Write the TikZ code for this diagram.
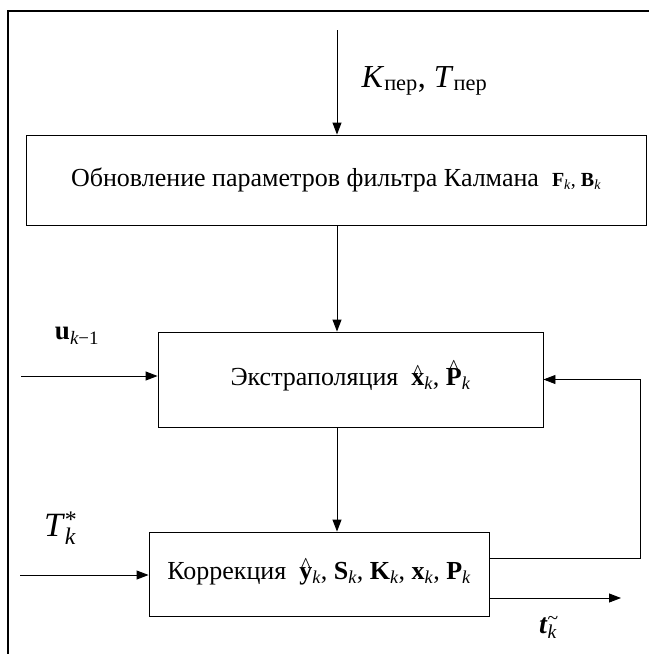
\documentclass[tikz,border=0pt]{standalone}
\usepackage{fontspec}
\setmainfont{Liberation Serif}
\usetikzlibrary{arrows.meta}

\newcommand{\vb}[1]{\textbf{#1}}
\newcommand{\ix}[1]{\textsubscript{\itshape #1}}
\newcommand{\hatv}[2]{\ooalign{#2\cr\hidewidth\raisebox{#1}{\fontsize{20}{20}\selectfont\textasciicircum}\hidewidth\cr}}
\newcommand{\boxfont}{\fontsize{26}{30}\selectfont}

\begin{document}
\begin{tikzpicture}[x=1pt, y=-1pt, >={Triangle[length=12pt,width=9pt]},
    box/.style={draw, line width=0.9pt, inner sep=0pt, font=\boxfont},
    link/.style={line width=0.9pt}]
	\useasboundingbox (0,0) rectangle (649,654);

	% Frame
	\draw[line width=2.6pt] (8,654) -- (8,11) -- (649,11);

	% Blocks
	\node[box, minimum width=620pt, minimum height=90pt] (update) at (336,180)
		{Обновление параметров фильтра Калмана \ {\fontsize{20}{20}\selectfont\vb{F}\ix{k}, \vb{B}\ix{k}}};
	\node[box, minimum width=385pt, minimum height=95pt] (predict) at (350.5,379.5)
		{Экстраполяция \ \hatv{7pt}{\vb{x}}\ix{k}, \hatv{12pt}{\vb{P}}\ix{k}};
	\node[box, minimum width=340pt, minimum height=84pt] (correct) at (319,574)
		{Коррекция \ \hatv{8pt}{\vb{y}}\ix{k}, \vb{S}\ix{k}, \vb{K}\ix{k}, \vb{x}\ix{k}, \vb{P}\ix{k}};

	% Inputs and outputs
	\coordinate (kin) at (337,30);
	\coordinate (uin) at (21,376);
	\coordinate (tin) at (20,575);
	\coordinate (tout) at (621,598);
	\node[anchor=west, font=\fontsize{32}{36}\selectfont] (klabel) at (358,81)
		{\textit{K}\textsubscript{пер}, \textit{T}\textsubscript{пер}};
	\node[font=\fontsize{27}{30}\selectfont] (ulabel) at (77,336) {\vb{u}\textsubscript{\itshape k\upshape −1}};
	\node[font=\fontsize{34}{38}\selectfont] (Tlabel) at (60,528) {\textit{T}\rlap{\textsuperscript{*}}\ix{k}};
	\node[font=\fontsize{28}{30}\selectfont] (tlabel) at (548,627) {\textbf{\textit{t}}\rlap{\textsuperscript{\~{}}}\ix{k}};

	% Arrows
	\draw[link, ->] (kin) -- (kin |- update.north);
	\draw[link, ->] (kin |- update.south) -- (kin |- predict.north);
	\draw[link, ->] (kin |- predict.south) -- (kin |- correct.north);
	\draw[link, ->] (uin) -- (uin -| predict.west);
	\draw[link, ->] (tin) -- (tin -| correct.west);
	\draw[link, ->] ([yshift=16pt]correct.east) -| ([xshift=97pt]predict.east) -- (predict.east);
	\draw[link, ->] (tout -| correct.east) -- (tout);
\end{tikzpicture}
\end{document}
